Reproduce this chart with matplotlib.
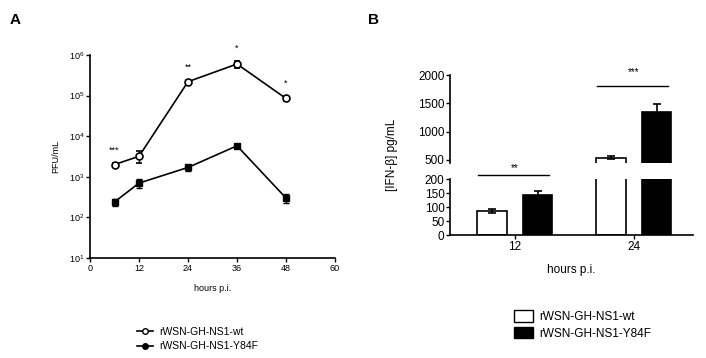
import matplotlib
matplotlib.use("Agg")
import numpy as np
import matplotlib.pyplot as plt
from matplotlib.lines import Line2D
from matplotlib.patches import Patch

plt.rcParams['font.family'] = ['Liberation Sans', 'DejaVu Sans']

# Panel A: virus titre (PFU/mL)
hours = [6, 12, 24, 36, 48]
wt_pfu = [2000, 3200, 220000, 600000, 85000]
wt_err = [150, 1000, 20000, 120000, 12000]
y84f_pfu = [240, 700, 1700, 5800, 300]
y84f_err = [50, 170, 300, 500, 70]
stars_a = ['***', '', '**', '*', '*']

# Panel B: IFN-beta (pg/mL)
groups = ['12', '24']
wt_ifn = [85, 540]
wt_ifn_err = [8, 30]
y84f_ifn = [142, 1350]
y84f_ifn_err = [16, 130]
stars_b = ['**', '***']

label_wt = 'rWSN-GH-NS1-wt'
label_mut = 'rWSN-GH-NS1-Y84F'

W, H = 706, 358
fig = plt.figure(figsize=(W / 100, H / 100), dpi=100)


def box(x0, y0, x1, y1):
    # pixel box (top-left origin) -> figure fraction
    return [x0 / W, 1 - y1 / H, (x1 - x0) / W, (y1 - y0) / H]


def style(ax, size):
    for s in ['top', 'right']:
        ax.spines[s].set_visible(False)
    for s in ['left', 'bottom']:
        ax.spines[s].set_linewidth(1.2)
    ax.tick_params(labelsize=size, width=1.0, length=3, pad=1)


# ---- Panel A ----
axA = fig.add_axes(box(90, 55, 335, 258))
style(axA, 6.5)
axA.set_yscale('log')
axA.set_ylim(10, 1e6)
axA.set_xlim(0, 60)
axA.set_xticks(range(0, 61, 12))
axA.set_yticks([1e1, 1e2, 1e3, 1e4, 1e5, 1e6])
axA.yaxis.set_minor_locator(matplotlib.ticker.NullLocator())
axA.errorbar(hours, wt_pfu, yerr=wt_err, color='black', lw=1.2, marker='o',
             ms=5, mfc='white', mec='black', mew=1.2, capsize=2.5, elinewidth=1)
axA.errorbar(hours, y84f_pfu, yerr=y84f_err, color='black', lw=1.2, marker='s',
             ms=5, mfc='black', mec='black', capsize=2.5, elinewidth=1)
for h, v, e, s in zip(hours, wt_pfu, wt_err, stars_a):
    if s:
        axA.annotate(s, (h, v + e), xytext=(0, 6), textcoords='offset points',
                     ha='center', va='bottom', fontsize=6.5)
axA.set_xlabel('hours p.i.', fontsize=6.5, labelpad=8)
axA.set_ylabel('PFU/mL', fontsize=6.5, labelpad=6)
fig.text(10 / W, 1 - 20 / H, 'A', fontsize=11, fontweight='bold', va='center')

handles_a = [Line2D([], [], color='black', marker='o', mfc='white', ms=4, lw=1.2),
             Line2D([], [], color='black', marker='o', mfc='black', ms=4, lw=1.2)]
fig.legend(handles_a, [label_wt, label_mut], loc='center left',
           bbox_to_anchor=(128 / W, 1 - 339 / H), frameon=False, fontsize=7.5,
           handlelength=1.5, handletextpad=0.6, labelspacing=0.45)

# ---- Panel B (broken axis) ----
axT = fig.add_axes(box(450, 75, 693, 163))
axB = fig.add_axes(box(450, 179, 693, 235))
for ax in (axT, axB):
    style(ax, 8.5)
    ax.set_xlim(-0.546, 1.496)
axT.set_ylim(446, 2000)
axT.set_yticks([500, 1000, 1500, 2000])
axT.spines['bottom'].set_visible(False)
axT.tick_params(axis='x', bottom=False, labelbottom=False)
axB.set_ylim(0, 200)
axB.set_yticks(range(0, 201, 50))

x = np.arange(len(groups))
bw, off = 0.25, 0.19
for ax in (axT, axB):
    ax.bar(x - off, wt_ifn, bw, yerr=wt_ifn_err, color='white', edgecolor='black',
           linewidth=1.2, error_kw=dict(capsize=3, elinewidth=1.2, capthick=1.2))
    ax.bar(x + off, y84f_ifn, bw, yerr=y84f_ifn_err, color='black', edgecolor='black',
           linewidth=1.2, error_kw=dict(capsize=3, elinewidth=1.2, capthick=1.2))
axB.set_xticks(x)
axB.set_xticklabels(groups)
axB.set_xlabel('hours p.i.', fontsize=8.5, labelpad=8)
fig.text(392 / W, 1 - 155 / H, '[IFN-\u03b2] pg/mL', rotation=90, fontsize=8.5,
         ha='center', va='center')

# significance bars
axB.plot([x[0] - 0.31, x[0] + 0.29], [214, 214], color='black', lw=1, clip_on=False)
axB.text(x[0], 240, stars_b[0], ha='center', va='center', fontsize=7)
axT.plot([x[1] - 0.31, x[1] + 0.29], [1800, 1800], color='black', lw=1, clip_on=False)
axT.text(x[1], 2060, stars_b[1], ha='center', va='center', fontsize=7)

fig.text(368 / W, 1 - 20 / H, 'B', fontsize=11, fontweight='bold', va='center')

handles_b = [Patch(facecolor='white', edgecolor='black', lw=1),
             Patch(facecolor='black', edgecolor='black', lw=1)]
fig.legend(handles_b, [label_wt, label_mut], loc='center left',
           bbox_to_anchor=(503 / W, 1 - 325 / H), frameon=False, fontsize=8.5,
           handlelength=1.6, handleheight=1.1, handletextpad=0.6, labelspacing=0.35)

fig.savefig('out.png', dpi=100)
